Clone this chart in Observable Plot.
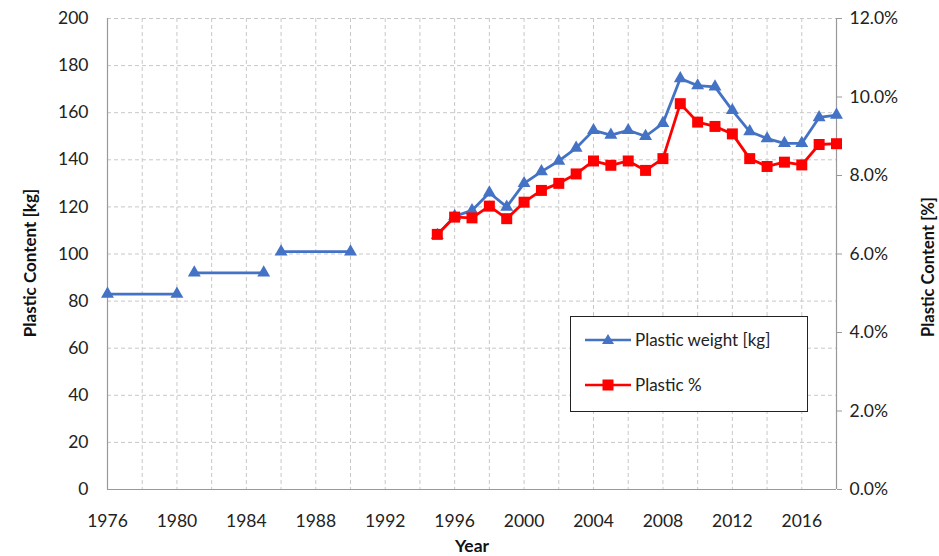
<!DOCTYPE html>
<html><head><meta charset="utf-8">
<script src="https://cdn.jsdelivr.net/npm/d3@7"></script>
<script src="https://cdn.jsdelivr.net/npm/@observablehq/plot@0.6"></script>
<style>
body{margin:0;background:#fff;font-family:Lato,"Open Sans",sans-serif;}
#chart{position:relative;width:939px;height:556px;}
#chart svg{font-family:Lato,"Open Sans",sans-serif;}
.legend{position:absolute;left:570px;top:316px;width:236px;height:94px;border:1.5px solid #222;background:#fff;font-size:17px;color:#222;}
.legend .row{position:absolute;left:14px;display:flex;align-items:center;}
.legend svg{margin-right:4px;}
</style>
</head><body>
<div id="chart"></div>
<script>
// Plastic weight [kg] (blue triangles), split into segments
const weightYears = [1976,1980, 1981,1985, 1986,1990, 1995,1996,1997,1998,1999,2000,2001,2002,2003,2004,2005,2006,2007,2008,2009,2010,2011,2012,2013,2014,2015,2016,2017,2018];
const weightKg    = [83,83, 92,92, 101,101, 108,116,118.5,126,120,130,135,139.5,145,152.5,150.5,152.5,150,155.5,174.5,171.5,171,161,152,149,147,147,158,159];
const weightSeg   = ["a","a","b","b","c","c","d","d","d","d","d","d","d","d","d","d","d","d","d","d","d","d","d","d","d","d","d","d","d","d"];
// Plastic % (red squares)
const pctYears  = [1995,1996,1997,1998,1999,2000,2001,2002,2003,2004,2005,2006,2007,2008,2009,2010,2011,2012,2013,2014,2015,2016,2017,2018];
const pctValues = [6.5,6.94,6.92,7.22,6.9,7.32,7.62,7.8,8.04,8.37,8.26,8.37,8.13,8.43,9.83,9.36,9.25,9.06,8.43,8.23,8.34,8.27,8.79,8.81];
const kgTicks  = [0,20,40,60,80,100,120,140,160,180,200];
const pctTicks = [0,2,4,6,8,10,12];
const yearTicks = [1976,1980,1984,1988,1992,1996,2000,2004,2008,2012,2016];
const gridYears = [1978,1980,1982,1984,1986,1988,1990,1992,1994,1996,1998,2000,2002,2004,2006,2008,2010,2012,2014,2016];
const leftTitle = "Plastic Content [kg]";
const rightTitle = "Plastic Content [%]";
const xTitle = "Year";

const kgPerPct = 200 / 12;
const weight = weightYears.map((y, i) => ({year: y, kg: weightKg[i], seg: weightSeg[i]}));
const pct = pctYears.map((y, i) => ({year: y, v: pctValues[i] * kgPerPct}));

const blue = "#4472C4", red = "#FF0000", axisColor = "#999";

const chart = Plot.plot({
  width: 939, height: 556,
  marginLeft: 107, marginRight: 103, marginTop: 18, marginBottom: 67,
  style: {fontSize: "17.5px", color: "#222", background: "#fff"},
  x: {domain: [1976, 2018]},
  y: {domain: [0, 200]},
  marks: [
    Plot.gridY(kgTicks, {stroke: "#c8c8c8", strokeOpacity: 1, strokeDasharray: "4,3"}),
    Plot.gridX(gridYears, {stroke: "#c8c8c8", strokeOpacity: 1, strokeDasharray: "4,3"}),
    Plot.ruleY([0], {stroke: axisColor, strokeWidth: 1.2}),
    Plot.ruleX([1976], {stroke: axisColor, strokeWidth: 1.2}),
    Plot.ruleX([2018], {stroke: axisColor, strokeWidth: 1.2}),
    Plot.axisY(kgTicks, {anchor: "left", tickSize: 0, tickPadding: 19, label: null}),
    Plot.axisY(pctTicks.map(p => p * kgPerPct), {anchor: "right", tickSize: 5, tickPadding: 8, stroke: axisColor, tickFormat: d => (d / kgPerPct).toFixed(1) + "%", label: null}),
    Plot.axisX(yearTicks, {tickSize: 0, tickPadding: 25, tickFormat: d => String(d), label: null}),
    Plot.text([leftTitle], {frameAnchor: "left", textAnchor: "middle", rotate: -90, dx: -77, dy: 9, fontWeight: "bold", fontSize: 17, fill: "#111"}),
    Plot.text([rightTitle], {frameAnchor: "right", textAnchor: "middle", rotate: -90, dx: 92, dy: 13, fontWeight: "bold", fontSize: 16.5, fill: "#111"}),
    Plot.text([xTitle], {frameAnchor: "bottom", dy: 62, fontWeight: "bold", fontSize: 17.5, fill: "#111"}),
    Plot.line(weight, {x: "year", y: "kg", z: "seg", stroke: blue, strokeWidth: 2.8}),
    Plot.dot(weight, {x: "year", y: "kg", symbol: "triangle", fill: blue, r: 4.8}),
    Plot.line(pct, {x: "year", y: "v", stroke: red, strokeWidth: 2.8}),
    Plot.dot(pct, {x: "year", y: "v", symbol: "square", fill: red, r: 6.2})
  ]
});
const host = document.getElementById("chart");
host.appendChild(chart);

const legend = document.createElement("div");
legend.className = "legend";
legend.innerHTML = `
  <div class="row" style="top:12px"><svg width="46" height="16"><line x1="0" y1="8" x2="46" y2="8" stroke="${blue}" stroke-width="2.5"/><path d="M23,2 L29,12 L17,12 Z" fill="${blue}"/></svg><span>Plastic weight [kg]</span></div>
  <div class="row" style="top:57px"><svg width="46" height="16"><line x1="0" y1="8" x2="46" y2="8" stroke="${red}" stroke-width="2.5"/><rect x="17.5" y="2.5" width="11" height="11" fill="${red}"/></svg><span>Plastic %</span></div>`;
host.appendChild(legend);
</script>
</body></html>
